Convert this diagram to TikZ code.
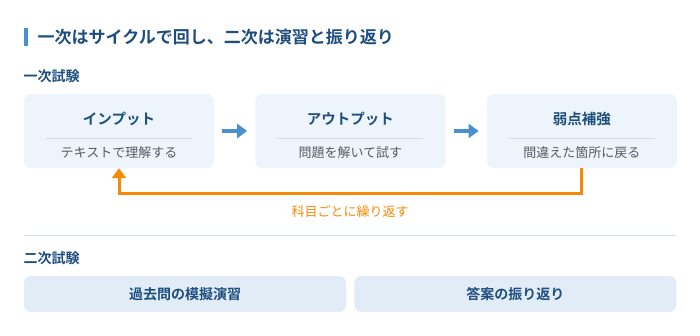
\documentclass[tikz,border=0pt]{standalone}
\usepackage{fontspec}
\setmainfont{Noto Sans CJK JP}[BoldFont={Noto Sans CJK JP Bold}]
\usepackage{xcolor}
\usetikzlibrary{arrows.meta, positioning}

\definecolor{navy}{HTML}{1D4E7E}
\definecolor{accent}{HTML}{4A90D0}
\definecolor{paleA}{HTML}{EDF4FB}
\definecolor{paleB}{HTML}{E1ECF6}
\definecolor{subgray}{HTML}{555B61}
\definecolor{sepline}{HTML}{D3DEE9}
\definecolor{loopc}{HTML}{F58A07}

\begin{document}
\begin{tikzpicture}[
    x=1pt, y=-1pt,
    node distance=41pt,
    stagebox/.style={rectangle, fill=paleA, rounded corners=7pt, minimum width=190pt, minimum height=74pt, inner sep=0pt},
    exambox/.style={rectangle, fill=paleB, rounded corners=7pt, minimum width=322pt, minimum height=36pt, inner sep=0pt, font=\fontsize{14}{16}\selectfont\bfseries, text=navy},
    stagettl/.style={font=\fontsize{14.5}{16}\selectfont\bfseries, text=navy, inner sep=0pt},
    stagesub/.style={font=\fontsize{13}{15}\selectfont, text=subgray, inner sep=0pt},
    seclbl/.style={anchor=west, inner sep=0pt, font=\fontsize{14}{16}\selectfont\bfseries, text=navy},
    flowarr/.style={-{Triangle[length=10pt, width=14pt]}, line width=4pt, color=accent},
    looparr/.style={-{Triangle[length=10pt, width=14pt]}, line width=3pt, color=loopc},
    looplbl/.style={font=\fontsize{13}{15}\selectfont, text=loopc, inner sep=0pt}
]
\useasboundingbox (0,0) rectangle (700,336);

% Heading
\fill[accent] (24,28) rectangle (27.5,46);
\node[anchor=west, inner sep=0pt, font=\fontsize{17}{19}\selectfont\bfseries, text=navy] (head) at (37.5,37) {一次はサイクルで回し、二次は演習と振り返り};

% First exam: cycle
\node[seclbl] (sec1) at (23.5,76) {一次試験};

\node[stagebox] (inp) at (119,131) {};
\node[stagebox, right=of inp] (outp) {};
\node[stagebox, right=of outp] (weak) {};

\node[stagettl] (inpT) at ([yshift=12pt]inp.center) {インプット};
\node[stagettl] (outpT) at ([yshift=12pt]outp.center) {アウトプット};
\node[stagettl] (weakT) at ([yshift=12pt]weak.center) {弱点補強};

\draw[sepline, line width=0.8pt] ([xshift=-73pt, yshift=-7pt]inp.center) -- ([xshift=73pt, yshift=-7pt]inp.center);
\draw[sepline, line width=0.8pt] ([xshift=-73pt, yshift=-7pt]outp.center) -- ([xshift=73pt, yshift=-7pt]outp.center);
\draw[sepline, line width=0.8pt] ([xshift=-73pt, yshift=-7pt]weak.center) -- ([xshift=73pt, yshift=-7pt]weak.center);

\node[stagesub] (inpS) at ([yshift=-22pt]inp.center) {テキストで理解する};
\node[stagesub] (outpS) at ([yshift=-22pt]outp.center) {問題を解いて試す};
\node[stagesub] (weakS) at ([yshift=-22pt]weak.center) {間違えた箇所に戻る};

% Flow arrows
\draw[flowarr] ([xshift=8pt]inp.east) -- ([xshift=-8pt]outp.west);
\draw[flowarr] ([xshift=8pt]outp.east) -- ([xshift=-8pt]weak.west);

% Feedback loop
\draw[looparr] (weak.south) -- ++(0,25) -| (inp.south);
\node[looplbl] (loopT) at (350,212) {科目ごとに繰り返す};

% Divider
\draw[sepline, line width=1pt] (24,236) -- (676,236);

% Second exam
\node[seclbl] (sec2) at (23.5,258) {二次試験};
\node[exambox] (past) at (185,294) {過去問の模擬演習};
\node[exambox, right=8pt of past] (review) {答案の振り返り};

\end{tikzpicture}
\end{document}
